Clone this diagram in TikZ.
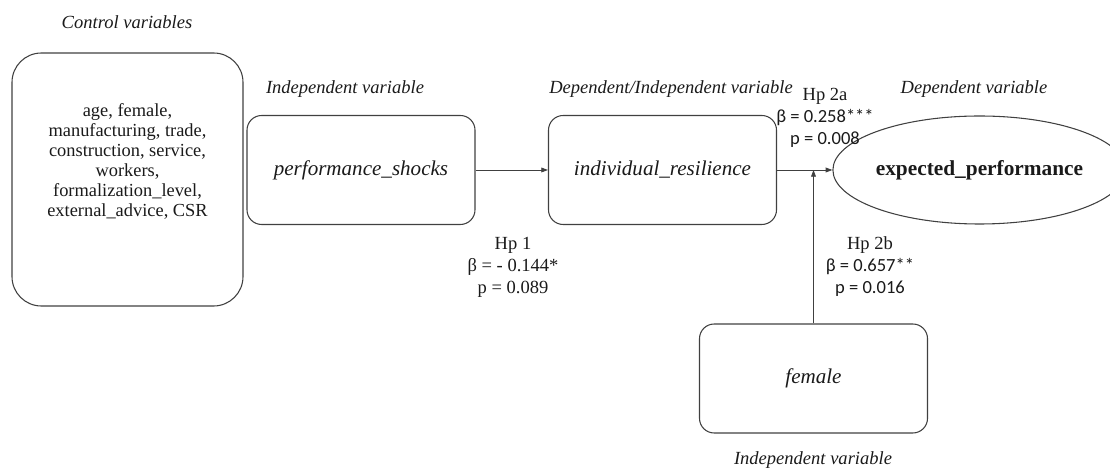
\documentclass[tikz,border=0pt]{standalone}
\usepackage{fontspec}
\setmainfont{Liberation Serif}
\newfontfamily\calib{Carlito}
\usetikzlibrary{shapes.geometric,arrows.meta}
\definecolor{linecol}{HTML}{404040}
\definecolor{txtcol}{HTML}{1A1A1A}
\tikzset{
  varbox/.style={draw=linecol, line width=0.8pt, rounded corners=11pt, minimum width=171pt, minimum height=81.75pt, inner sep=0pt, font=\fontsize{15.8}{18}\selectfont\itshape, text=txtcol},
  ctrlbox/.style={draw=linecol, line width=0.8pt, rounded corners=22pt, minimum width=173.25pt, minimum height=189.75pt, inner sep=0pt, align=center, font=\fontsize{13.8}{15}\selectfont, text=txtcol},
  depell/.style={draw=linecol, line width=0.8pt, ellipse, minimum width=192.75pt, minimum height=81pt, inner sep=0pt, font=\fontsize{16}{18}\selectfont\bfseries, text=txtcol},
  captext/.style={font=\fontsize{13.9}{16}\selectfont\itshape, text=txtcol, inner sep=0pt},
  hyp/.style={font=\fontsize{13.9}{16.5}\selectfont, align=center, text=txtcol, inner sep=0pt},
  conn/.style={draw=linecol, line width=0.6pt, -{Triangle[length=5pt,width=3.6pt]}},
}
\begin{document}
\begin{tikzpicture}[x=0.75pt,y=-0.75pt]
\useasboundingbox (0,0) rectangle (1110,473);
% captions
\node[captext] (c1) at (127,22) {Control variables};
\node[captext] (c2) at (345,89) {Independent variable};
\node[captext] (c3) at (671,89) {Dependent/Independent variable};
\node[captext] (c4) at (974,89) {Dependent variable};
\node[captext] (c5) at (813,460) {Independent variable};
% boxes
\node[ctrlbox] (ctrl) at (127.5,179.5) {age, female,\\manufacturing, trade,\\construction, service,\\workers,\\formalization\_level,\\external\_advice, CSR\\[14pt]};
\node[varbox] (perf) at (361,170) {performance\_shocks};
\node[varbox] (indiv) at (662.5,170) {individual\_resilience};
\node[depell] (exp) at (979.5,170) {expected\_performance};
\node[varbox] (fem) at (813.5,378.5) {female};
% connectors
\draw[conn] (perf.east) -- (indiv.west);
\draw[conn] (indiv.east) -- (exp.west);
\coordinate (mod) at (fem.north |- indiv.east);
\draw[conn] (fem.north) -- (mod);
% hypothesis labels
\node[hyp] (h1) at (513,267) {Hp 1\\β = - 0.144*\\p = 0.089};
\node[hyp] (h2a) at (825,118) {Hp 2a\\{\calib β = 0.258***}\\{\calib p = 0.008}};
\node[hyp] (h2b) at (870,267) {Hp 2b\\{\calib β = 0.657**}\\{\calib p = 0.016}};
\end{tikzpicture}
\end{document}
